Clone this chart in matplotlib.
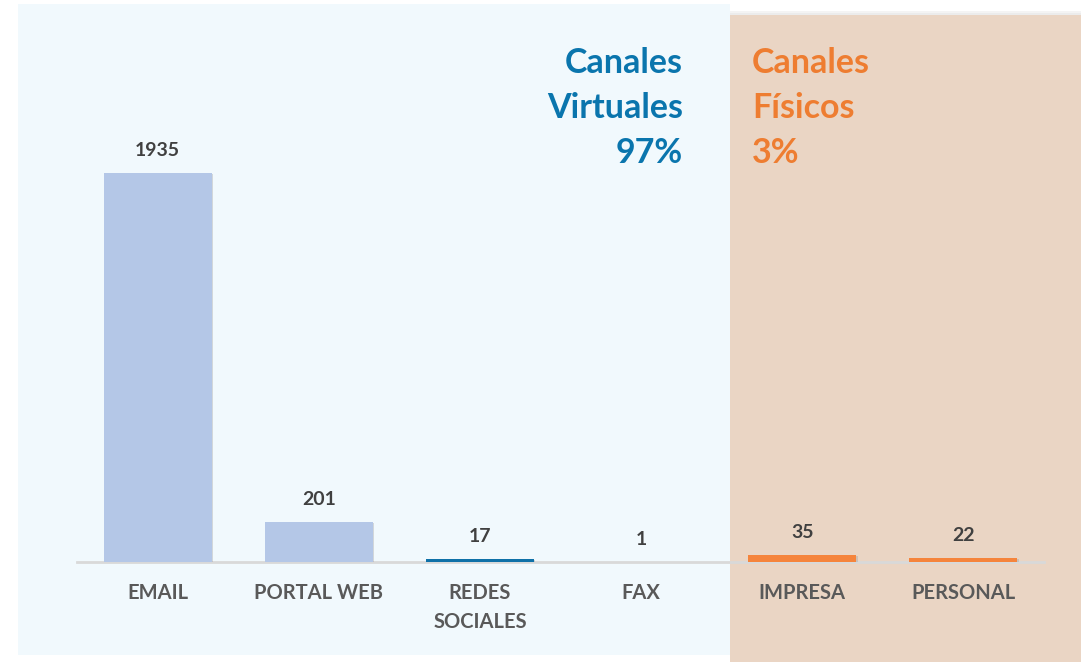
import numpy as np
import matplotlib.pyplot as plt
from matplotlib.patches import Rectangle
import matplotlib.patheffects as pe

# ---- data --------------------------------------------------------------------
canales = ["EMAIL", "PORTAL WEB", "REDES\nSOCIALES", "FAX", "IMPRESA", "PERSONAL"]
valores = [1935, 201, 17, 1, 35, 22]
tipo = ["virtual", "virtual", "virtual", "virtual", "fisico", "fisico"]
pct_virtual = "97%"
pct_fisico = "3%"
# ------------------------------------------------------------------------------

plt.rcParams['font.family'] = ['Lato', 'DejaVu Sans']

W, H = 1081, 662
fig = plt.figure(figsize=(W / 100, H / 100), dpi=100)
fig.patch.set_facecolor("white")

# background panels (figure pixel coords -> fraction)
def px_rect(x0, y_top, x1, y_bot, color, z):
    r = Rectangle((x0 / W, 1 - y_bot / H), (x1 - x0) / W, (y_bot - y_top) / H,
                  transform=fig.transFigure, facecolor=color, edgecolor="none", zorder=z)
    fig.patches.append(r)
    return r

px_rect(730, 11, 1081, 662, "#f4f4f4", 0)
px_rect(730, 13, 1081, 662, "#ececec", 0)
px_rect(18, 4, 730, 655, "#f1f9fd", 1)
px_rect(730, 15, 1081, 662, "#ead5c4", 1)

# axes: baseline at y=562 px, left 77 px, right 1044 px
ax_bottom = (H - 562) / H
ax_top_px = 40
ax = fig.add_axes([77 / W, ax_bottom, (1044 - 77) / W, (562 - ax_top_px) / H])
ax.set_facecolor("none")
ax.set_zorder(2)

x = np.arange(len(canales))
colores = []
for i, t in enumerate(tipo):
    if t == "fisico":
        colores.append("#f5843c")
    elif valores[i] < 100:
        colores.append("#0f71a8")
    else:
        colores.append("#b4c7e7")

bars = ax.bar(x, valores, width=0.67, color=colores, zorder=3)
for b in bars:
    b.set_path_effects([pe.SimplePatchShadow(offset=(1, -1), shadow_rgbFace="#9a9a9a", alpha=0.35),
                        pe.Normal()])

ymax = max(valores) * (562 - ax_top_px) / 389
ax.set_xlim(-0.5, len(canales) - 0.5)
ax.set_ylim(0, ymax)

for xi, v in zip(x, valores):
    ax.annotate(str(v), (xi, v), xytext=(0, 10), textcoords="offset points",
                ha="center", va="bottom", fontsize=14, fontweight="bold", color="#404040")

for s in ["top", "right", "left"]:
    ax.spines[s].set_visible(False)
ax.spines["bottom"].set_color("#d9d9d9")
ax.spines["bottom"].set_linewidth(2)
ax.set_yticks([])
ax.set_xticks(x)
ax.set_xticklabels(canales, fontsize=14.5, fontweight="bold", color="#595959",
                   linespacing=1.6, va="top")
ax.tick_params(axis="x", length=0, pad=15)

# group titles
fig.text(683 / W, 1 - 47 / H, "Canales\nVirtuales\n" + pct_virtual, ha="right", va="top",
         fontsize=24.5, fontweight="bold", color="#0a75ad", linespacing=1.5, zorder=5)
fig.text(752 / W, 1 - 47 / H, "Canales\nFísicos\n" + pct_fisico, ha="left", va="top",
         fontsize=24.5, fontweight="bold", color="#ee7d31", linespacing=1.5, zorder=5)

fig.savefig("out.png", dpi=100)
